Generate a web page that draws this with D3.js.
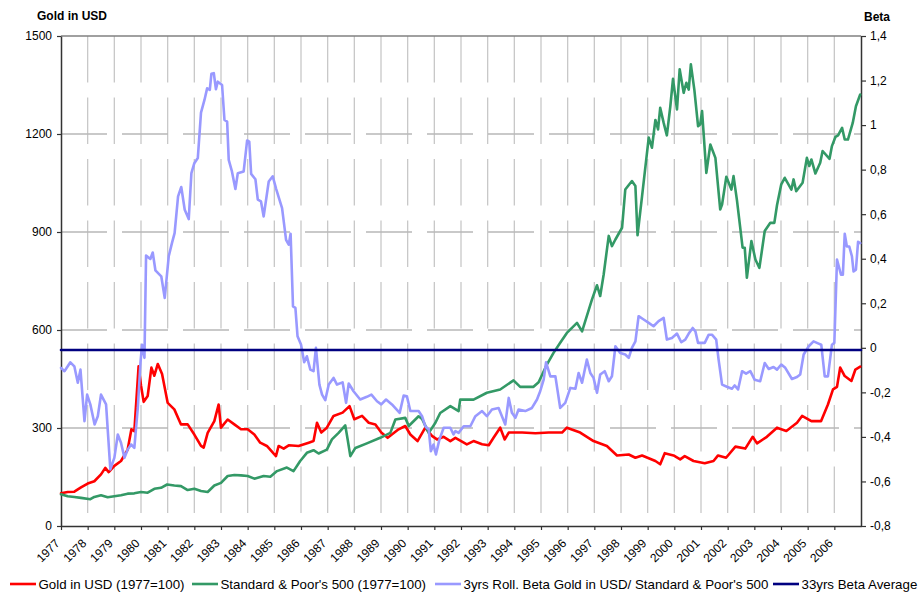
<!DOCTYPE html>
<html>
<head>
<meta charset="utf-8">
<script src="https://cdn.jsdelivr.net/npm/d3@7"></script>
<style>
  body { margin: 0; background: #fff; }
  svg { font-family: "Liberation Sans", Arial, sans-serif; }
</style>
</head>
<body>
<div id="chart"></div>
<script>
// ==== Data ====
const years = [1977,1978,1979,1980,1981,1982,1983,1984,1985,1986,1987,1988,1989,1990,1991,
               1992,1993,1994,1995,1996,1997,1998,1999,2000,2001,2002,2003,2004,2005,2006];
const leftTicks  = [0, 300, 600, 900, 1200, 1500];
const rightTicks = [-0.8, -0.6, -0.4, -0.2, 0, 0.2, 0.4, 0.6, 0.8, 1, 1.2, 1.4];
const betaAverage = -0.01;

const seriesNames = ["Gold in USD (1977=100)", "Standard & Poor's 500 (1977=100)",
                     "3yrs Roll. Beta Gold in USD/ Standard & Poor's 500", "33yrs Beta Average"];

// [year, value]
const gold = [
  [1977.00,100],[1977.25,104],[1977.50,105],[1977.75,118],[1978.00,130],[1978.25,137],[1978.50,158],
  [1978.66,178],[1978.79,165],[1979.00,184],[1979.25,199],[1979.50,234],[1979.64,296],[1979.75,290],
  [1979.91,489],[1980.00,430],[1980.10,380],[1980.25,398],[1980.39,485],[1980.50,460],[1980.63,496],
  [1980.79,465],[1981.00,377],[1981.25,357],[1981.50,311],[1981.75,311],[1982.00,280],[1982.25,245],
  [1982.35,240],[1982.50,285],[1982.75,321],[1982.91,372],[1983.00,301],[1983.25,326],[1983.50,311],
  [1983.75,296],[1984.00,296],[1984.25,280],[1984.47,255],[1984.72,245],[1985.06,214],[1985.16,245],
  [1985.35,237],[1985.54,247],[1985.91,245],[1986.29,255],[1986.47,260],[1986.60,316],[1986.76,286],
  [1986.97,301],[1987.22,337],[1987.56,347],[1987.82,367],[1988.00,327],[1988.29,337],[1988.54,316],
  [1988.79,311],[1989.01,286],[1989.25,270],[1989.66,296],[1989.91,306],[1990.10,280],[1990.37,260],
  [1990.66,301],[1990.91,276],[1991.10,265],[1991.35,273],[1991.60,260],[1991.79,270],[1992.22,250],
  [1992.47,260],[1992.79,250],[1993.04,247],[1993.22,270],[1993.47,301],[1993.64,265],[1993.79,286],
  [1994.29,286],[1994.79,284],[1995.29,286],[1995.79,286],[1995.97,301],[1996.47,286],[1996.97,260],
  [1997.47,245],[1997.85,216],[1998.29,219],[1998.54,209],[1998.79,216],[1999.29,199],[1999.47,189],
  [1999.64,223],[1999.97,216],[2000.22,204],[2000.39,214],[2000.72,199],[2001.14,192],[2001.47,199],
  [2001.64,216],[2001.94,209],[2002.29,243],[2002.66,237],[2002.94,273],[2003.10,253],[2003.47,273],
  [2003.85,301],[2004.20,291],[2004.60,316],[2004.79,337],[2005.14,321],[2005.50,321],[2005.76,372],
  [2005.95,418],[2006.10,426],[2006.22,485],[2006.39,459],[2006.64,444],[2006.79,479],[2006.97,488]
];

const sp500 = [
  [1977.00,97],[1977.25,91],[1977.50,89],[1977.75,86],[1978.10,82],[1978.25,89],[1978.50,94],
  [1978.75,88],[1979.00,91],[1979.25,94],[1979.50,99],[1979.75,100],[1980.00,104],[1980.25,102],
  [1980.50,114],[1980.75,117],[1980.98,127],[1981.25,124],[1981.50,122],[1981.75,110],[1982.00,114],
  [1982.25,107],[1982.50,104],[1982.75,124],[1983.00,132],[1983.25,153],[1983.50,156],[1983.75,155],
  [1984.00,153],[1984.25,145],[1984.60,153],[1984.85,151],[1985.10,168],[1985.47,179],[1985.72,168],
  [1985.97,199],[1986.22,224],[1986.47,232],[1986.66,222],[1986.97,234],[1987.16,265],[1987.41,285],
  [1987.66,308],[1987.75,265],[1987.85,214],[1988.04,239],[1988.47,253],[1988.97,270],[1989.35,285],
  [1989.54,326],[1989.91,331],[1990.04,306],[1990.41,336],[1990.54,328],[1990.79,285],[1991.04,316],
  [1991.22,346],[1991.60,367],[1991.91,352],[1991.97,387],[1992.47,387],[1992.97,408],[1993.47,418],
  [1993.97,446],[1994.22,426],[1994.72,426],[1994.91,440],[1995.22,494],[1995.47,530],[1995.72,561],
  [1995.97,591],[1996.35,622],[1996.54,596],[1996.91,693],[1997.10,737],[1997.22,704],[1997.35,770],
  [1997.54,888],[1997.66,857],[1997.79,877],[1998.04,913],[1998.16,1030],[1998.41,1056],[1998.54,1041],
  [1998.62,890],[1998.79,1010],[1999.04,1189],[1999.16,1158],[1999.29,1243],[1999.39,1214],[1999.47,1280],
  [1999.60,1234],[1999.72,1196],[1999.85,1285],[1999.95,1369],[2000.10,1275],[2000.20,1398],[2000.35,1326],
  [2000.45,1357],[2000.54,1336],[2000.62,1413],[2000.75,1336],[2000.89,1224],[2000.97,1229],[2001.04,1270],
  [2001.20,1081],[2001.35,1168],[2001.54,1127],[2001.72,969],[2001.79,984],[2001.95,1069],[2002.14,1030],
  [2002.22,1071],[2002.35,996],[2002.56,852],[2002.64,852],[2002.72,760],[2002.89,872],[2003.04,816],
  [2003.19,790],[2003.39,903],[2003.60,928],[2003.75,928],[2003.85,982],[2004.01,1046],[2004.14,1066],
  [2004.39,1030],[2004.47,1061],[2004.57,1025],[2004.81,1051],[2004.97,1127],[2005.06,1102],[2005.14,1122],
  [2005.29,1079],[2005.47,1112],[2005.56,1148],[2005.82,1124],[2005.91,1163],[2006.04,1191],[2006.14,1196],
  [2006.29,1219],[2006.39,1183],[2006.51,1183],[2006.69,1234],[2006.81,1285],[2006.97,1321]
];

const beta = [
  [1977.00,-0.09],[1977.13,-0.105],[1977.35,-0.065],[1977.50,-0.083],[1977.63,-0.157],[1977.73,-0.098],
  [1977.88,-0.329],[1977.98,-0.21],[1978.10,-0.254],[1978.26,-0.344],[1978.38,-0.307],[1978.50,-0.21],
  [1978.69,-0.254],[1978.85,-0.546],[1979.00,-0.494],[1979.13,-0.389],[1979.25,-0.426],[1979.38,-0.494],
  [1979.50,-0.457],[1979.63,-0.434],[1979.75,-0.449],[1979.88,-0.27],[1979.98,-0.068],[1980.04,0.014],
  [1980.13,-0.045],[1980.19,0.414],[1980.35,0.399],[1980.44,0.428],[1980.54,0.348],[1980.76,0.321],
  [1980.89,0.224],[1981.04,0.411],[1981.16,0.47],[1981.26,0.515],[1981.39,0.68],[1981.51,0.722],
  [1981.64,0.62],[1981.79,0.578],[1981.89,0.784],[1982.00,0.829],[1982.13,0.852],[1982.25,1.056],
  [1982.38,1.113],[1982.48,1.165],[1982.58,1.158],[1982.64,1.23],[1982.73,1.233],[1982.81,1.161],
  [1982.88,1.195],[1983.04,1.18],[1983.13,1.023],[1983.23,1.016],[1983.29,0.844],[1983.41,0.792],
  [1983.54,0.713],[1983.63,0.784],[1983.85,0.792],[1983.98,0.931],[1984.06,0.926],[1984.13,0.781],
  [1984.29,0.757],[1984.38,0.665],[1984.50,0.657],[1984.60,0.59],[1984.79,0.747],[1984.94,0.77],
  [1985.07,0.713],[1985.29,0.627],[1985.44,0.485],[1985.54,0.463],[1985.61,0.512],[1985.70,0.186],
  [1985.79,0.179],[1985.87,0.052],[1986.00,0.015],[1986.12,-0.065],[1986.22,-0.038],[1986.35,-0.098],
  [1986.47,-0.105],[1986.56,0.0],[1986.69,-0.165],[1986.79,-0.21],[1986.91,-0.235],[1987.04,-0.165],
  [1987.22,-0.135],[1987.35,-0.165],[1987.56,-0.155],[1987.69,-0.247],[1987.79,-0.16],[1987.97,-0.195],
  [1988.22,-0.232],[1988.47,-0.22],[1988.64,-0.21],[1988.85,-0.24],[1989.01,-0.254],[1989.19,-0.232],
  [1989.41,-0.254],[1989.70,-0.292],[1989.85,-0.214],[1989.97,-0.217],[1990.10,-0.284],[1990.41,-0.284],
  [1990.54,-0.307],[1990.66,-0.352],[1990.79,-0.367],[1990.87,-0.464],[1990.97,-0.434],[1991.06,-0.479],
  [1991.19,-0.412],[1991.35,-0.359],[1991.60,-0.359],[1991.72,-0.389],[1991.79,-0.374],[1991.91,-0.382],
  [1992.10,-0.352],[1992.35,-0.352],[1992.54,-0.307],[1992.79,-0.284],[1992.97,-0.307],[1993.16,-0.277],
  [1993.41,-0.27],[1993.66,-0.344],[1993.79,-0.225],[1993.91,-0.292],[1994.04,-0.314],[1994.16,-0.277],
  [1994.41,-0.284],[1994.66,-0.27],[1994.85,-0.232],[1994.97,-0.195],[1995.10,-0.143],[1995.19,-0.065],
  [1995.35,-0.128],[1995.54,-0.128],[1995.72,-0.27],[1995.91,-0.247],[1996.10,-0.18],[1996.29,-0.184],
  [1996.41,-0.113],[1996.54,-0.157],[1996.72,-0.053],[1996.85,-0.113],[1996.97,-0.135],[1997.10,-0.202],
  [1997.22,-0.12],[1997.39,-0.105],[1997.54,-0.15],[1997.66,-0.128],[1997.79,0.007],[1997.97,-0.023],
  [1998.16,-0.03],[1998.29,-0.045],[1998.41,0.0],[1998.54,0.029],[1998.66,0.142],[1998.85,0.127],
  [1999.04,0.112],[1999.22,0.097],[1999.41,0.12],[1999.60,0.134],[1999.72,0.037],[1999.91,0.044],
  [2000.10,0.064],[2000.26,0.025],[2000.41,0.037],[2000.54,0.064],[2000.69,0.089],[2000.79,0.074],
  [2000.89,0.022],[2001.14,0.022],[2001.29,0.059],[2001.41,0.059],[2001.57,0.037],[2001.66,-0.053],
  [2001.79,-0.165],[2001.97,-0.175],[2002.16,-0.184],[2002.26,-0.169],[2002.39,-0.187],[2002.54,-0.105],
  [2002.69,-0.116],[2002.85,-0.105],[2003.01,-0.143],[2003.22,-0.15],[2003.39,-0.068],[2003.54,-0.095],
  [2003.72,-0.086],[2003.85,-0.098],[2004.01,-0.075],[2004.16,-0.09],[2004.41,-0.14],[2004.60,-0.131],
  [2004.72,-0.12],[2004.85,-0.03],[2005.04,0.007],[2005.22,0.029],[2005.41,0.019],[2005.51,0.014],
  [2005.64,-0.128],[2005.76,-0.128],[2005.91,0.014],[2006.00,0.022],[2006.10,0.396],[2006.25,0.328],
  [2006.32,0.328],[2006.39,0.512],[2006.47,0.455],[2006.56,0.455],[2006.66,0.411],[2006.72,0.343],
  [2006.81,0.351],[2006.89,0.476],[2006.97,0.47]
];

const colors = ["#ff0000", "#339966", "#9999ff", "#000080"];

// ==== Layout ====
const W = 920, H = 594;
const plot = { left: 61, right: 861, top: 36, bottom: 526 };

const svg = d3.select("#chart").append("svg")
  .attr("width", W).attr("height", H);

const x = d3.scaleLinear().domain([1977, 2007]).range([plot.left, plot.right]);
const yL = d3.scaleLinear().domain([0, 1500]).range([plot.bottom, plot.top]);
const yR = d3.scaleLinear().domain([-0.8, 1.4]).range([plot.bottom, plot.top]);

const commaFmt = d3.formatLocale({ decimal: ",", thousands: ".", grouping: [3], currency: ["", ""], minus: "-" })
  .format(".1~f");

// ==== Gridlines (Excel-like broken lines) ====
const grid = svg.append("g");
grid.selectAll(".vgrid")
  .data(years.slice(1))
  .enter().append("line")
    .attr("x1", d => x(d)).attr("x2", d => x(d))
    .attr("y1", plot.top).attr("y2", plot.bottom)
    .attr("stroke", "#c8c8c8").attr("stroke-width", 1.3)
    .attr("stroke-dasharray", "46.5 15");

grid.selectAll(".hgrid")
  .data(leftTicks.slice(1, -1))
  .enter().append("line")
    .attr("x1", plot.left).attr("x2", plot.right)
    .attr("y1", d => yL(d)).attr("y2", d => yL(d))
    .attr("stroke", "#b8b8b8").attr("stroke-width", 1.3)
    .attr("stroke-dasharray", "46 15");

// top border
svg.append("line")
  .attr("x1", plot.left).attr("x2", plot.right)
  .attr("y1", plot.top).attr("y2", plot.top)
  .attr("stroke", "#808080").attr("stroke-width", 1.5);

// ==== Axes ====
function styleAxis(g) {
  g.select(".domain").attr("stroke", "#333").attr("stroke-width", 1.5);
  g.selectAll(".tick line").attr("stroke", "#333").attr("stroke-width", 1.2);
  g.selectAll(".tick text").attr("fill", "#000").style("font-size", "12px");
}

svg.append("g")
  .attr("transform", `translate(${plot.left},0)`)
  .call(d3.axisLeft(yL).tickValues(leftTicks).tickSize(4).tickSizeOuter(0).tickPadding(5).tickFormat(d3.format("d")))
  .call(styleAxis)
  .call(g => g.attr("font-family", null));

svg.append("g")
  .attr("transform", `translate(${plot.right},0)`)
  .call(d3.axisRight(yR).tickValues(rightTicks).tickSize(5).tickSizeOuter(0).tickPadding(4).tickFormat(commaFmt))
  .call(styleAxis)
  .call(g => g.attr("font-family", null));

const xAxis = svg.append("g")
  .attr("transform", `translate(0,${plot.bottom})`)
  .call(d3.axisBottom(x).tickValues(years).tickSize(4).tickSizeOuter(0).tickFormat(d3.format("d")))
  .call(styleAxis)
  .call(g => g.attr("font-family", null));

xAxis.selectAll(".tick text")
  .attr("text-anchor", "end")
  .attr("dy", null)
  .attr("y", null)
  .attr("transform", "translate(-1,18) rotate(-45)");

// ==== Lines ====
const lineL = d3.line().x(d => x(d[0])).y(d => yL(d[1]));
const lineR = d3.line().x(d => x(d[0])).y(d => yR(d[1]));

const lines = svg.append("g").attr("fill", "none")
  .attr("stroke-width", 2.6).attr("stroke-linejoin", "round").attr("stroke-linecap", "round");

lines.append("path").datum(gold).attr("d", lineL).attr("stroke", colors[0]);
lines.append("path").datum(sp500).attr("d", lineL).attr("stroke", colors[1]);
lines.append("path").datum(beta).attr("d", lineR).attr("stroke", colors[2]);
lines.append("line")
  .attr("x1", plot.left).attr("x2", plot.right)
  .attr("y1", yR(betaAverage)).attr("y2", yR(betaAverage))
  .attr("stroke", colors[3]).attr("stroke-width", 2.6);

// ==== Axis titles ====
svg.append("text").attr("x", 37).attr("y", 20)
  .style("font-size", "12px").style("font-weight", "bold").text("Gold in USD");
svg.append("text").attr("x", 864).attr("y", 21)
  .style("font-size", "12px").style("font-weight", "bold").text("Beta");

// ==== Legend ====
const legendX = [10, 192, 435, 773];
const legend = svg.append("g").attr("transform", "translate(0,584)");
seriesNames.forEach((name, i) => {
  const g = legend.append("g").attr("transform", `translate(${legendX[i]},0)`);
  g.append("line").attr("x1", 0).attr("x2", 26).attr("y1", 0).attr("y2", 0)
    .attr("stroke", colors[i]).attr("stroke-width", 2.6);
  g.append("text").attr("x", 28.5).attr("y", 4.6)
    .style("font-size", "13.3px").text(name);
});
</script>
</body>
</html>
